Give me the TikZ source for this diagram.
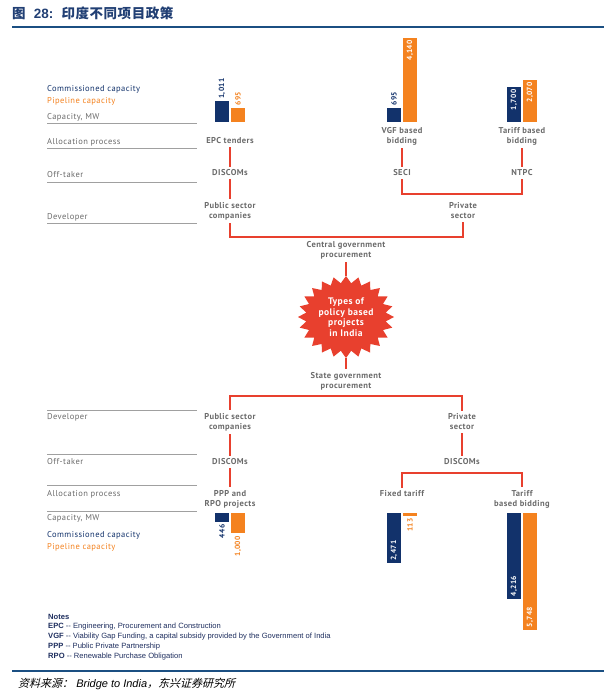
\documentclass[tikz,border=0pt]{standalone}
\usepackage{fontspec}
\setmainfont{PT Sans}[LetterSpace=5]
\newfontfamily\notefont{Liberation Sans}
\newfontfamily\cjk{Noto Sans CJK SC}[LetterSpace=4]
\newfontfamily\cjkit[FakeSlant=0.25]{Noto Sans CJK SC}
\usetikzlibrary{shapes.geometric}
\definecolor{navy}{HTML}{12326B}
\definecolor{orng}{HTML}{F4821F}
\definecolor{redl}{HTML}{E8402E}
\definecolor{txtg}{HTML}{6B6B6B}
\definecolor{lineg}{HTML}{A0A0A0}
\definecolor{titleblue}{HTML}{213F74}
\definecolor{ruleblue}{HTML}{1B4F82}
\definecolor{notec}{HTML}{1F2F5F}
\begin{document}
\begin{tikzpicture}[x=1pt,y=-1pt,
  lbl/.style={font=\fontsize{8.5}{10}\selectfont\bfseries, text=txtg, align=center, inner sep=3pt},
  side/.style={font=\fontsize{8.5}{9}\selectfont, text=txtg, anchor=west, inner sep=0pt},
  sideline/.style={draw=lineg, line width=0.8pt},
  conn/.style={draw=redl, line width=2.2pt},
  num/.style={font=\fontsize{7.5}{7.5}\selectfont\bfseries, rotate=90, inner sep=1pt},
  note/.style={font=\notefont\fontsize{7.6}{8}\selectfont, text=notec, anchor=west, inner sep=0pt}]
\useasboundingbox (0,0) rectangle (616,694);
\fill[white] (0,0) rectangle (616,694);

% title
\node[anchor=west, inner sep=0pt, text=titleblue, font=\fontsize{13.5}{14}\selectfont\bfseries] (title) at (12,13)
  {{\cjk\bfseries 图}\ \ {\notefont\bfseries 28:}\ \ {\cjk\bfseries 印度不同项目政策}};
\draw[ruleblue, line width=2.2pt] (12,27) -- (604,27);

% ---------- side labels, top ----------
\node[side, text=navy] (cc1) at (47,89) {Commissioned capacity};
\node[side, text=orng] (pc1) at (47,101) {Pipeline capacity};
\node[side] (cap1) at (47,117) {Capacity, MW};
\node[side] (alloc1) at (47,142) {Allocation process};
\node[side] (off1) at (47,175) {Off-taker};
\node[side] (dev1) at (47,217) {Developer};
\foreach \yy in {123,148,182,223} \draw[sideline] (47,\yy) -- (197,\yy);

% ---------- side labels, bottom ----------
\foreach \yy in {410,454,485,511} \draw[sideline] (47,\yy) -- (197,\yy);
\node[side] (dev2) at (47,417) {Developer};
\node[side] (off2) at (47,462) {Off-taker};
\node[side] (alloc2) at (47,494) {Allocation process};
\node[side] (cap2) at (47,518) {Capacity, MW};
\node[side, text=navy] (cc2) at (47,535) {Commissioned capacity};
\node[side, text=orng] (pc2) at (47,547) {Pipeline capacity};

% ---------- top bars (baseline 122) ----------
\fill[navy] (215,122) rectangle (229,101.4);
\fill[orng] (231,122) rectangle (245,107.8);
\node[num, text=navy, anchor=west] (v1) at (222,100) {1,011};
\node[num, text=orng, anchor=west] (v2) at (238,106.5) {695};

\fill[navy] (387,122) rectangle (401,107.8);
\fill[orng] (403,122) rectangle (417,37.5);
\node[num, text=navy, anchor=west] (v3) at (394,106.5) {695};
\node[num, text=white, anchor=east] (v4) at (410,39) {4,140};

\fill[navy] (507,122) rectangle (521,87.3);
\fill[orng] (523,122) rectangle (537,79.8);
\node[num, text=white, anchor=east] (v5) at (514,88.5) {1,700};
\node[num, text=white, anchor=east] (v6) at (530,81) {2,070};

% ---------- top tree ----------
\node[lbl] (epc) at (230,141) {EPC tenders};
\node[lbl] (disT) at (230,173) {DISCOMs};
\node[lbl] (pubT) at (230,211) {Public sector\\companies};
\node[lbl] (vgf) at (402,136) {VGF based\\bidding};
\node[lbl] (seci) at (402,173) {SECI};
\node[lbl] (tbbT) at (522,136) {Tariff based\\bidding};
\node[lbl] (ntpc) at (522,173) {NTPC};
\node[lbl] (privT) at (463,211) {Private\\sector};
\node[lbl] (central) at (346,250) {Central government\\procurement};

\draw[conn] (epc) -- (disT);
\draw[conn] (disT) -- (pubT);
\draw[conn] (vgf) -- (seci);
\draw[conn] (tbbT) -- (ntpc);
\draw[conn] (seci.south) -- ++(0,15) -| (ntpc.south);
\draw[conn] (pubT.south) -- ++(0,14) -| (privT.south);

% ---------- star ----------
\fill[redl] plot[samples at={0,...,47}, variable=\k]
  ({346+ifthenelse(mod(\k,2)==0,48,40)*cos(\k*7.5)},
   {317+ifthenelse(mod(\k,2)==0,41,34)*sin(\k*7.5)}) -- cycle;
\node[ellipse, minimum width=96pt, minimum height=82pt, inner sep=0pt, text=white, align=center,
  font=\fontsize{9.5}{10.5}\selectfont\bfseries] (star) at (346,317)
  {Types of\\policy based\\projects\\in India};
\node[lbl] (state) at (346,381) {State government\\procurement};
\draw[conn] (central) -- (star);
\draw[conn] (star) -- (state);

% ---------- bottom tree ----------
\node[lbl] (pubB) at (230,422) {Public sector\\companies};
\node[lbl] (privB) at (462,422) {Private\\sector};
\node[lbl] (disB) at (230,462) {DISCOMs};
\node[lbl] (disB2) at (462,462) {DISCOMs};
\node[lbl] (ppp) at (230,499) {PPP and\\RPO projects};
\node[lbl] (fixed) at (402,494) {Fixed tariff};
\node[lbl] (tbbB) at (522,499) {Tariff\\based bidding};

\draw[conn] (pubB.north) -- ++(0,-14) -| (privB.north);
\draw[conn] (pubB) -- (disB);
\draw[conn] (privB) -- (disB2);
\draw[conn] (disB) -- (ppp);
\draw[conn] (fixed.north) -- ++(0,-15) -| (tbbB.north);

% ---------- bottom bars (top 513) ----------
\fill[navy] (215,513) rectangle (229,522.1);
\fill[orng] (231,513) rectangle (245,533.4);
\node[num, text=navy, anchor=east] (w1) at (222,523.5) {446};
\node[num, text=orng, anchor=east] (w2) at (238,535) {1,000};

\fill[navy] (387,513) rectangle (401,563.4);
\fill[orng] (403,513) rectangle (417,515.5);
\node[num, text=white, anchor=west] (w3) at (394,562) {2,471};
\node[num, text=orng, anchor=east] (w4) at (410,517) {113};

\fill[navy] (507,513) rectangle (521,599);
\fill[orng] (523,513) rectangle (537,630);
\node[num, text=white, anchor=west] (w5) at (514,597.5) {4,216};
\node[num, text=white, anchor=west] (w6) at (530,628.5) {5,748};

% ---------- notes ----------
\node[note] (n0) at (48,617) {\bfseries Notes};
\node[note] (n1) at (48,626.5) {\textbf{EPC} -- Engineering, Procurement and Construction};
\node[note] (n2) at (48,636.5) {\textbf{VGF} -- Viability Gap Funding, a capital subsidy provided by the Government of India};
\node[note] (n3) at (48,646.5) {\textbf{PPP} -- Public Private Partnership};
\node[note] (n4) at (48,656.5) {\textbf{RPO} -- Renewable Purchase Obligation};

% ---------- footer ----------
\draw[ruleblue, line width=2.2pt] (12,671) -- (604,671);
\node[anchor=west, inner sep=0pt, font=\fontsize{11}{12}\selectfont] (src) at (18,684)
  {{\cjkit 资料来源：}{\notefont\itshape\ Bridge to India}{\cjkit ，东兴证券研究所}};
\end{tikzpicture}
\end{document}
